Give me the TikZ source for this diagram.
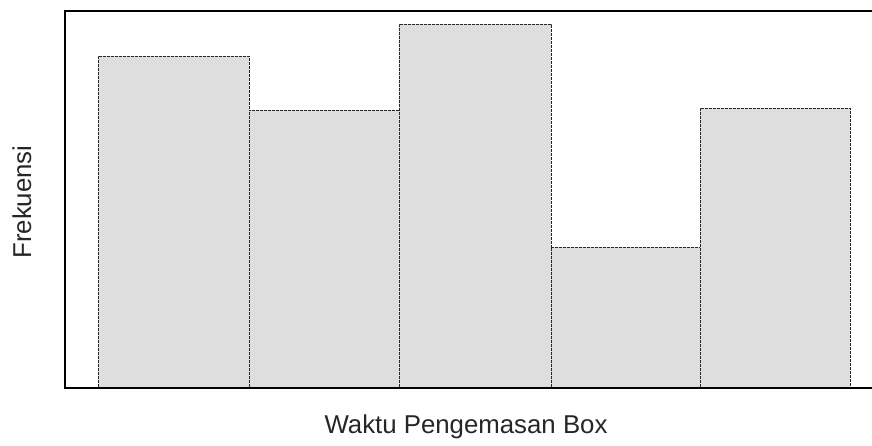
\documentclass[tikz,border=0pt]{standalone}
\usepackage{fontspec}
\setmainfont{Liberation Sans}
\begin{document}
\begin{tikzpicture}[x=1pt,y=-1pt,
  barbox/.style={draw=black!85, line width=1pt, fill=black!13, dash pattern=on 3pt off 1pt},
  framebox/.style={draw=black, line width=1.3pt},
  lbl/.style={font=\fontsize{25.8}{30}\selectfont, text=black!85, inner sep=0pt}]
\useasboundingbox (0,0) rectangle (872,445);
\fill[white] (0,0) rectangle (872,445);
% bars
\draw[barbox] (98,387) rectangle (249,56);
\draw[barbox] (249,387) rectangle (399,110);
\draw[barbox] (399,387) rectangle (551,24);
\draw[barbox] (551,387) rectangle (700,247);
\draw[barbox] (700,387) rectangle (850,108);
% frame
\draw[framebox] (872,11) -- (65,11) -- (65,388) -- (872,388);
% labels
\node[lbl] (xl) at (466,427) {Waktu Pengemasan Box};
\node[lbl, rotate=90] (yl) at (22,202) {Frekuensi};
\end{tikzpicture}
\end{document}
